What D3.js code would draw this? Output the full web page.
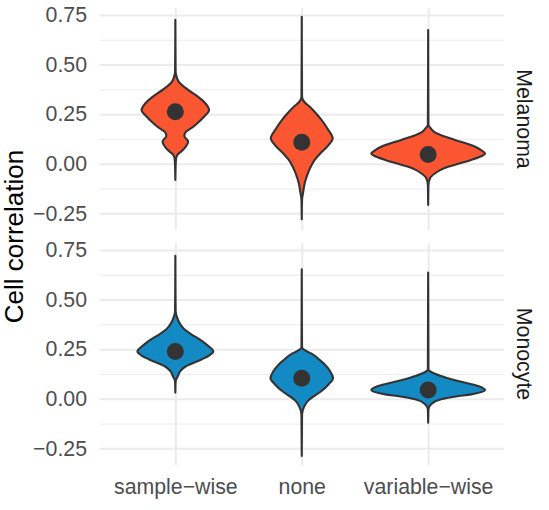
<!DOCTYPE html>
<html>
<head>
<meta charset="utf-8">
<script src="https://cdn.jsdelivr.net/npm/d3@7"></script>
<style>
  body { margin: 0; background: #fff; }
  svg { display: block; font-family: "Liberation Sans", Arial, sans-serif; }
</style>
</head>
<body>
<svg width="549" height="510"></svg>
<script>
// DATA
const categories = ["sample\u2212wise", "none", "variable\u2212wise"]
const panels = ["Melanoma", "Monocyte"]
const majorTicks = [-0.25, 0, 0.25, 0.5, 0.75]
const minorTicks = [-0.125, 0.125, 0.375, 0.625]
const fills = ["#FA5632", "#138AC4"]

// [cell correlation, relative density]
const melanomaSampleWise = [
  [0.725, 0], [0.464, 0.005], [0.435, 0.025], [0.414, 0.058], [0.372, 0.225],
  [0.338, 0.395], [0.305, 0.526], [0.271, 0.593], [0.237, 0.503], [0.204, 0.386],
  [0.179, 0.28], [0.161, 0.184], [0.14, 0.158], [0.111, 0.225], [0.086, 0.184],
  [0.069, 0.132], [0.044, 0.035], [0.019, 0.01], [-0.082, 0]
]
const melanomaNone = [
  [0.741, 0], [0.338, 0.005], [0.31, 0.05], [0.287, 0.14], [0.256, 0.245],
  [0.22, 0.35], [0.175, 0.456], [0.128, 0.544], [0.089, 0.456], [0.054, 0.333],
  [0.019, 0.228], [-0.015, 0.158], [-0.057, 0.096], [-0.097, 0.053],
  [-0.141, 0.026], [-0.183, 0.005], [-0.28, 0]
]
const melanomaVariableWise = [
  [0.674, 0], [0.195, 0.005], [0.18, 0.04], [0.161, 0.105], [0.14, 0.263],
  [0.12, 0.474], [0.086, 0.825], [0.069, 0.93], [0.052, 1], [0.035, 0.91],
  [0.019, 0.754], [0.002, 0.56], [-0.015, 0.35], [-0.032, 0.21], [-0.048, 0.123],
  [-0.072, 0.035], [-0.107, 0.005], [-0.208, 0]
]
const monocyteSampleWise = [
  [0.72, 0], [0.442, 0.005], [0.41, 0.03], [0.384, 0.07], [0.35, 0.158],
  [0.325, 0.28], [0.3, 0.42], [0.274, 0.544], [0.238, 0.667], [0.219, 0.6],
  [0.199, 0.468], [0.165, 0.193], [0.14, 0.088], [0.114, 0.044], [0.088, 0.005],
  [0.031, 0]
]
const monocyteNone = [
  [0.653, 0], [0.258, 0.005], [0.239, 0.088], [0.224, 0.193], [0.199, 0.3],
  [0.173, 0.404], [0.138, 0.5], [0.103, 0.55], [0.073, 0.474], [0.039, 0.346],
  [0.012, 0.21], [-0.012, 0.105], [-0.045, 0.035], [-0.079, 0.005], [-0.289, 0]
]
const monocyteVariableWise = [
  [0.636, 0], [0.148, 0.005], [0.123, 0.14], [0.106, 0.316], [0.089, 0.526],
  [0.064, 0.877], [0.044, 1], [0.022, 0.754], [0.011, 0.49], [-0.003, 0.228],
  [-0.028, 0.053], [-0.053, 0.005], [-0.121, 0]
]

const melanomaMeans = [0.262, 0.108, 0.047]
const monocyteMeans = [0.238, 0.103, 0.044]

const violins = [
  [melanomaSampleWise, melanomaNone, melanomaVariableWise],
  [monocyteSampleWise, monocyteNone, monocyteVariableWise]
]
const means = [melanomaMeans, monocyteMeans]

// SETUP
const svg = d3.select("svg")

const panelLeft = 99.5
const panelRight = 504
const panelTops = [8, 243]
const panelHeight = 222
const fontSize = 21.3

const scaleX = d3.scalePoint()
  .domain(categories)
  .range([panelLeft, panelRight])
  .padding(0.6)

const scaleW = d3.scaleLinear()
  .domain([0, 1])
  .range([0, scaleX.step() * 0.45])

// PANELS
panels.forEach((panel, p) => {
  const top = panelTops[p]

  const scaleY = d3.scaleLinear()
    .domain([-0.334, 0.785])
    .range([top + panelHeight, top])

  // minor grid
  const minorGroup = svg.append("g")
    .attr("transform", `translate(${panelLeft}, 0)`)
    .call(d3.axisLeft(scaleY)
      .tickValues(minorTicks)
      .tickSize(-(panelRight - panelLeft))
      .tickFormat(""))
  minorGroup.select(".domain").remove()
  minorGroup.selectAll("line")
    .attr("stroke", "#EBEBEB")
    .attr("stroke-width", 1)

  // major grid + labels
  const yGroup = svg.append("g")
    .attr("transform", `translate(${panelLeft}, 0)`)
    .call(d3.axisLeft(scaleY)
      .tickValues(majorTicks)
      .tickSize(-(panelRight - panelLeft))
      .tickPadding(12.5)
      .tickFormat(d3.format(".2f")))
  yGroup.select(".domain").remove()
  yGroup.selectAll("line")
    .attr("stroke", "#EBEBEB")
    .attr("stroke-width", 2)
  yGroup.selectAll("text")
    .attr("fill", "#4D4D4D")
    .style("font-size", fontSize + "px")
    .style("font-family", "'Liberation Sans', Arial, sans-serif")

  // vertical grid, labels only under the last panel
  const xGroup = svg.append("g")
    .attr("transform", `translate(0, ${top + panelHeight})`)
    .call(d3.axisBottom(scaleX)
      .tickSize(-panelHeight)
      .tickPadding(13.9))
  xGroup.select(".domain").remove()
  xGroup.selectAll("line")
    .attr("stroke", "#EBEBEB")
    .attr("stroke-width", 2)
  xGroup.selectAll("text")
    .attr("fill", "#4D4D4D")
    .style("font-size", fontSize + "px")
    .style("font-family", "'Liberation Sans', Arial, sans-serif")
    .style("display", p === panels.length - 1 ? null : "none")

  // violins
  categories.forEach((cat, i) => {
    const cx = scaleX(cat)
    const area = d3.area()
      .curve(d3.curveMonotoneY)
      .y((d) => { return scaleY(d[0]) })
      .x0((d) => { return cx - scaleW(d[1]) })
      .x1((d) => { return cx + scaleW(d[1]) })

    svg.append("path")
      .datum(violins[p][i])
      .attr("d", area)
      .attr("fill", fills[p])
      .attr("stroke", "#333333")
      .attr("stroke-width", 2.1)
      .attr("stroke-linejoin", "round")
  })

  svg.append("g")
    .selectAll("circle")
    .data(means[p])
    .enter()
      .append("circle")
    .attr("cx", (d, i) => { return scaleX(categories[i]) })
    .attr("cy", (d) => { return scaleY(d) })
    .attr("r", 8.5)
    .attr("fill", "#333333")

  // strip label
  svg.append("text")
    .attr("transform", `translate(517, ${top + panelHeight / 2}) rotate(90)`)
    .attr("text-anchor", "middle")
    .attr("fill", "#1A1A1A")
    .style("font-size", fontSize + "px")
    .text(panel)
})

svg.append("text")
  .attr("transform", `translate(22.5, ${panelTops[0] + (panelTops[1] + panelHeight - panelTops[0]) / 2}) rotate(-90)`)
  .attr("text-anchor", "middle")
  .attr("fill", "#000000")
  .style("font-size", "26px")
  .text("Cell correlation")
</script>
</body>
</html>
